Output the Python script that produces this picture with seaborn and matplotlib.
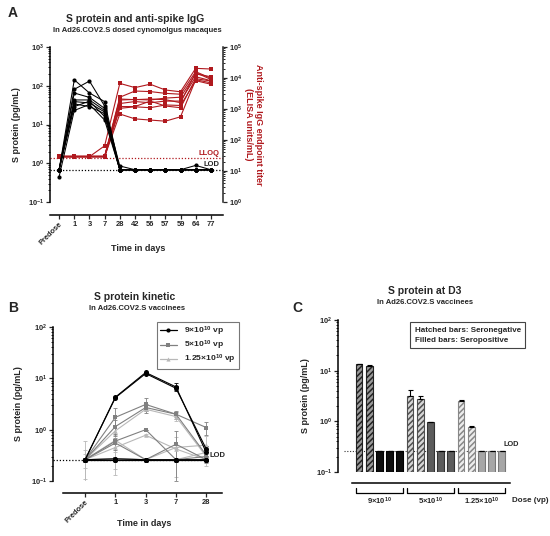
import matplotlib
matplotlib.use("Agg")
import matplotlib.pyplot as plt
from matplotlib.lines import Line2D
import seaborn as sns
import pandas as pd
import numpy as np

sns.set_style("ticks")
plt.rcParams['font.family'] = ['Liberation Sans', 'DejaVu Sans']
plt.rcParams['font.weight'] = 'bold'
plt.rcParams['axes.labelweight'] = 'bold'
plt.rcParams['mathtext.fontset'] = 'custom'
plt.rcParams['mathtext.rm'] = 'Liberation Sans:bold'
plt.rcParams['mathtext.bf'] = 'Liberation Sans:bold'
plt.rcParams['mathtext.default'] = 'bf'
plt.rcParams['hatch.linewidth'] = 1.1

# ---------------- data ----------------
# Panel A
days_A = ["Predose", "1", "3", "7", "28", "42", "56", "57", "59", "64", "77"]
s_protein_monkeys = [
    [0.68, 142, 65, 39, 0.68, 0.68, 0.68, 0.68, 0.68, 0.68, 0.68],
    [0.68, 81, 132, 30, 0.68, 0.68, 0.68, 0.68, 0.68, 0.68, 0.68],
    [0.68, 65, 50, 26, 0.85, 0.68, 0.68, 0.68, 0.68, 0.68, 0.68],
    [0.68, 43, 43, 23, 0.68, 0.68, 0.68, 0.68, 0.68, 0.68, 0.68],
    [0.68, 39, 36, 21, 0.68, 0.68, 0.68, 0.68, 0.68, 0.88, 0.68],
    [0.68, 34, 29, 19, 0.68, 0.68, 0.68, 0.68, 0.68, 0.68, 0.68],
    [0.68, 29, 40, 16, 0.68, 0.68, 0.68, 0.68, 0.68, 0.68, 0.68],
    [0.45, 23, 33, 13, 0.68, 0.68, 0.68, 0.68, 0.68, 0.68, 0.68],
]
igg_titer_monkeys = [
    [29, 29, 29, 65, 6700, 4900, 6300, 4100, 3600, 20500, 19500],
    [30, 30, 30, 30, 2400, 3800, 3650, 3200, 3000, 16000, 9800],
    [29, 29, 29, 29, 1950, 2040, 1950, 2250, 2400, 13500, 11000],
    [29, 29, 29, 29, 1500, 1740, 1590, 1800, 1800, 11000, 8200],
    [29, 29, 29, 29, 1050, 1180, 1100, 1350, 1300, 8200, 6300],
    [29, 29, 29, 29, 690, 480, 440, 405, 560, 8800, 7000],
    [30, 30, 30, 30, 2100, 2000, 2100, 2000, 1600, 15000, 9000],
    [29, 29, 29, 29, 1200, 1200, 1800, 1250, 1100, 9500, 8000],
]
lod_A = 0.68
lloq_A = 26

# Panel B
days_B = ["Predose", "1", "3", "7", "28"]
dose_labels = ["9×$10^{10}$ vp", "5×$10^{10}$ vp", "1.25×$10^{10}$ vp"]
kin_9e10 = [[0.26, 4.3, 13.0, 6.8, 0.36], [0.26, 4.2, 12.4, 6.4, 0.42],
            [0.26, 0.27, 0.26, 0.26, 0.26], [0.26, 0.26, 0.26, 0.26, 0.26],
            [0.26, 0.26, 0.26, 0.26, 0.26]]
err_9e10 = [[0, 0, 0.5, 1.2, 0.05], [0, 0, 0.3, 0.6, 0.05],
            [0, 0, 0, 0, 0], [0, 0, 0, 0, 0], [0, 0, 0, 0, 0]]
kin_5e10 = [[0.26, 1.74, 3.1, 2.0, 1.1], [0.26, 1.15, 2.7, 2.0, 0.32],
            [0.26, 0.6, 1.0, 0.26, 0.30], [0.26, 0.55, 0.26, 0.52, 0.26],
            [0.26, 0.27, 0.26, 0.26, 0.26]]
err_5e10 = [[0, 0.9, 1.0, 0.35, 0.3], [0, 0.4, 0.4, 0.2, 0.1],
            [0, 0, 0, 0, 0], [0, 0.15, 0, 0.42, 0], [0, 0, 0, 0, 0]]
kin_1e10 = [[0.26, 0.95, 2.5, 1.8, 0.30], [0.26, 0.45, 0.78, 0.42, 0.26],
            [0.26, 0.62, 0.26, 0.45, 0.50], [0.26, 0.26, 0.26, 0.26, 0.36],
            [0.26, 0.27, 0.26, 0.26, 0.26]]
err_1e10 = [[0.33, 0.3, 0.1, 0.3, 0.1], [0.08, 0.32, 0.03, 0.3, 0],
            [0.15, 0, 0, 0, 0.25], [0, 0, 0, 0, 0], [0, 0.1, 0, 0, 0]]
lod_B = 0.26

# Panel C
group_labels_C = ["9×$10^{10}$", "5×$10^{10}$", "1.25×$10^{10}$"]
d3_9e10 = [13.3, 12.4, 0.26, 0.26, 0.26]
d3_5e10 = [3.15, 2.7, 0.98, 0.26, 0.26]
d3_1e10 = [2.55, 0.78, 0.26, 0.26, 0.26]
d3_err_9e10 = [0.3, 0.3, 0, 0, 0]
d3_err_5e10 = [1.0, 0.45, 0, 0, 0]
d3_err_1e10 = [0.08, 0.03, 0, 0, 0]
seronegative_C = [True, True, False, False, False]
lod_C = 0.26

# ---------------- figure ----------------
W, H = 550, 536
fig = plt.figure(figsize=(5.5, 5.36), dpi=100)


def rect(l, t, r, b):
    return [l / W, 1 - b / H, (r - l) / W, (b - t) / H]


def ftxt(x, y, s, **kw):
    fig.text(x / W, 1 - y / H, s, **kw)


RED = '#B0191E'
LW_SP = 1.1
TICK = dict(labelsize=5.4, width=0.9, length=3.0, pad=1.3)
MINOR = dict(width=0.7, length=1.7)


def style_axis(ax, right=False):
    ax.spines['top'].set_visible(False)
    if not right:
        ax.spines['right'].set_visible(False)
    for s in ax.spines.values():
        s.set_linewidth(LW_SP)
        s.set_color('black')
    ax.tick_params(axis='both', which='major', **TICK)
    ax.tick_params(axis='y', which='minor', **MINOR)
    for lab in ax.get_xticklabels() + ax.get_yticklabels():
        lab.set_fontweight('bold')


# ===== Panel A =====
axA = fig.add_axes(rect(50, 47, 223, 202))
axA2 = axA.twinx()
xa = np.arange(len(days_A))
rows = []
for i, r in enumerate(s_protein_monkeys):
    for j, v in enumerate(r):
        rows.append(dict(x=xa[j], value=v, animal=i))
dfA = pd.DataFrame(rows)
rows = []
for i, r in enumerate(igg_titer_monkeys):
    for j, v in enumerate(r):
        rows.append(dict(x=xa[j], value=v, animal=i))
dfA2 = pd.DataFrame(rows)

axA.set_yscale('log')
axA2.set_yscale('log')
sns.lineplot(data=dfA2, x='x', y='value', units='animal', estimator=None,
             color=RED, marker='s', markersize=3.4, markeredgewidth=0,
             linewidth=0.8, ax=axA2, legend=False)
sns.lineplot(data=dfA, x='x', y='value', units='animal', estimator=None,
             color='black', marker='o', markersize=3.0, markeredgewidth=0,
             linewidth=0.75, ax=axA, legend=False)
axA.set_zorder(axA2.get_zorder() + 1)
axA.patch.set_visible(False)

axA.set_ylim(0.1, 1000)
axA2.set_ylim(1, 1e5)
axA.set_xlim(-0.6, 10.8)
axA.axhline(lod_A, color='black', ls=(0, (1, 1.5)), lw=0.9)
axA2.axhline(lloq_A, color=RED, ls=(0, (1, 1.5)), lw=0.9)
axA.text(10.55, lod_A * 1.12, "LOD", ha='right', va='bottom', fontsize=5.5,
         fontweight='bold')
axA2.text(10.55, lloq_A * 1.12, "LLOQ", ha='right', va='bottom', fontsize=5.5,
          fontweight='bold', color=RED)
axA.set_xticks(xa)
axA.set_xticklabels(days_A)
axA.spines['bottom'].set_position(('outward', 9.5))
style_axis(axA)
for s in ['top', 'left', 'bottom']:
    axA2.spines[s].set_visible(False)
axA2.spines['right'].set_linewidth(LW_SP)
axA2.tick_params(axis='y', which='major', **TICK)
axA2.tick_params(axis='y', which='minor', **MINOR)
lbl = axA.get_xticklabels()[0]
lbl.set_rotation(45)
lbl.set_ha('right')
lbl.set_rotation_mode('anchor')
axA.set_xlabel("Time in days", fontsize=6.5, fontweight='bold')
axA.xaxis.set_label_coords(0.51, -0.27)
axA.set_ylabel("S protein (pg/mL)", fontsize=6.5, fontweight='bold')
axA.yaxis.set_label_coords(-0.165, 0.5)
axA2.set_ylabel("Anti-spike IgG endpoint titer\n(ELISA units/mL)", fontsize=6.5,
                fontweight='bold', color=RED, rotation=-90, linespacing=1.1)
axA2.yaxis.label.set_va('center')
axA2.yaxis.label.set_ha('center')
axA2.yaxis.set_label_coords(1.175, 0.5)

ftxt(8, 13, "A", fontsize=10, fontweight='bold', va='center')
ftxt(135, 19, "S protein and anti-spike IgG", fontsize=7.5, fontweight='bold',
     ha='center', va='center')
ftxt(137, 31, "In Ad26.COV2.S dosed cynomolgus macaques", fontsize=5.5,
     fontweight='bold', ha='center', va='center')

# ===== Panel B =====
axB = fig.add_axes(rect(53, 327, 222, 481))
axB.set_yscale('log')
xb = np.arange(len(days_B))
groups = [(kin_9e10, err_9e10), (kin_5e10, err_5e10), (kin_1e10, err_1e10)]
colors_B = ['#000000', '#808080', '#b8b8b8']
markers_B = ['o', 's', '^']
msize_B = [3.6, 3.3, 3.3]
rows = []
for g, (kin, _) in enumerate(groups):
    for sidx, r in enumerate(kin):
        for j, v in enumerate(r):
            rows.append(dict(x=xb[j], value=v, dose=dose_labels[g],
                             subject=f"{g}-{sidx}"))
dfB = pd.DataFrame(rows)
for g in [2, 1, 0]:
    kin, err = groups[g]
    for r, e in zip(kin, err):
        axB.errorbar(xb, r, yerr=e, fmt='none', ecolor=colors_B[g],
                     elinewidth=0.6, capsize=1.2, capthick=0.6, zorder=1)
    sns.lineplot(data=dfB[dfB.dose == dose_labels[g]], x='x', y='value',
                 units='subject', estimator=None, color=colors_B[g],
                 marker=markers_B[g], markersize=msize_B[g], markeredgewidth=0,
                 linewidth=0.8, ax=axB, legend=False, zorder=2 + (2 - g))
axB.set_ylim(0.1, 100)
axB.set_xlim(-1.06, 4.52)
axB.plot([-1.06, 4.05], [lod_B, lod_B], color='black', ls=(0, (1, 1.5)),
         lw=0.9, clip_on=False, zorder=0)
axB.text(4.1, lod_B * 1.05, "LOD", ha='left', va='bottom', fontsize=5.5,
         fontweight='bold')
axB.set_xticks(xb)
axB.set_xticklabels(days_B)
axB.spines['bottom'].set_position(('outward', 8.6))
axB.spines['bottom'].set_bounds(-0.73, 4.52)
style_axis(axB)
lbl = axB.get_xticklabels()[0]
lbl.set_rotation(45)
lbl.set_ha('right')
lbl.set_rotation_mode('anchor')
axB.set_xlabel("Time in days", fontsize=6.5, fontweight='bold')
axB.xaxis.set_label_coords(0.54, -0.25)
axB.set_ylabel("S protein (pg/mL)", fontsize=6.5, fontweight='bold')
axB.yaxis.set_label_coords(-0.175, 0.5)
handles = [Line2D([0], [0], color=colors_B[g], marker=markers_B[g],
                  markersize=3, markeredgewidth=0, lw=0.9) for g in range(3)]
leg = axB.legend(handles, dose_labels, loc='upper left',
                 bbox_to_anchor=(0.615, 1.035), fontsize=6.1, frameon=True,
                 fancybox=False, edgecolor='#555555', handlelength=2.0,
                 borderpad=0.35, labelspacing=0.1, handletextpad=0.9,
                 borderaxespad=0.0)
leg.get_frame().set_linewidth(0.8)

ftxt(8, 308, "B", fontsize=10, fontweight='bold', va='center')
ftxt(135, 297, "S protein kinetic", fontsize=7.5, fontweight='bold',
     ha='center', va='center')
ftxt(137, 309, "In Ad26.COV2.S vaccinees", fontsize=5.5,
     fontweight='bold', ha='center', va='center')

# ===== Panel C =====
axC = fig.add_axes(rect(338, 320, 510, 472))
vals_C = d3_9e10 + d3_5e10 + d3_1e10
errs_C = d3_err_9e10 + d3_err_5e10 + d3_err_1e10
hatched_C = seronegative_C * 3
idx_C = [str(i) for i in range(len(vals_C))]
face_h = ['#9a9a9a', '#d6d6d6', '#ececec']
edge_h = ['#222222', '#505050', '#888888']
face_f = ['#0d0d0d', '#5c5c5c', '#a6a6a6']
edge_f = ['#000000', '#333333', '#777777']
pal = {}
for i in range(len(vals_C)):
    g = i // 5
    pal[idx_C[i]] = face_h[g] if hatched_C[i] else face_f[g]
dfC = pd.DataFrame(dict(bar=idx_C, value=vals_C))
sns.barplot(data=dfC, x='bar', y='value', hue='bar', palette=pal, legend=False,
            width=0.66, ax=axC, errorbar=None, saturation=1)
axC.set_yscale('log')
for i, p in enumerate(axC.patches):
    g = i // 5
    if hatched_C[i]:
        p.set_hatch('//////')
        p.set_edgecolor(edge_h[g])
    else:
        p.set_edgecolor(edge_f[g])
    p.set_linewidth(0.8)
xc = np.arange(len(vals_C))
axC.errorbar(xc, vals_C, yerr=[np.zeros(len(errs_C)), errs_C], fmt='none',
             ecolor='black', elinewidth=0.8, capsize=1.8, capthick=0.8)
axC.set_ylim(0.1, 100)
axC.set_xlim(-2.06, 14.8)
axC.plot([-1.5, 14.1], [lod_C, lod_C], color='#333333', ls=(0, (1, 1.5)),
         lw=0.8, zorder=0.5)
axC.text(14.2, lod_C * 1.12, "LOD", ha='left', va='bottom', fontsize=5.3,
         fontweight='bold')
axC.set_xticks([])
axC.set_xlabel("")
axC.spines['bottom'].set_position(('outward', 8))
axC.spines['bottom'].set_bounds(-0.69, 14.8)
style_axis(axC)
axC.tick_params(axis='x', length=0)
axC.set_ylabel("S protein (pg/mL)", fontsize=6.5, fontweight='bold')
axC.yaxis.set_label_coords(-0.16, 0.5)
trC = axC.get_xaxis_transform()
for g in range(3):
    x0, x1 = 5 * g - 0.25, 5 * g + 4.3
    axC.plot([x0, x0, x1, x1], [-0.105, -0.135, -0.135, -0.105],
             transform=trC, color='black', lw=0.9, clip_on=False)
    axC.text((x0 + x1) / 2, -0.19, group_labels_C[g], transform=trC,
             ha='center', va='center', fontsize=5.5, fontweight='bold')
axC.text(15.0, -0.19, "Dose (vp)", transform=trC, ha='left', va='center',
         fontsize=5.8, fontweight='bold')
axC.text(0.445, 0.955, "Hatched bars: Seronegative\nFilled bars: Seropositive",
         transform=axC.transAxes, ha='left', va='top', fontsize=5.8,
         fontweight='bold', linespacing=1.6,
         bbox=dict(boxstyle='square,pad=0.55', fc='white', ec='#444444', lw=0.8))

ftxt(292, 308, "C", fontsize=10, fontweight='bold', va='center')
ftxt(425, 291, "S protein at D3", fontsize=7.5, fontweight='bold',
     ha='center', va='center')
ftxt(425, 303, "In Ad26.COV2.S vaccinees", fontsize=5.5,
     fontweight='bold', ha='center', va='center')

fig.savefig("out.png", dpi=100, facecolor='white')
